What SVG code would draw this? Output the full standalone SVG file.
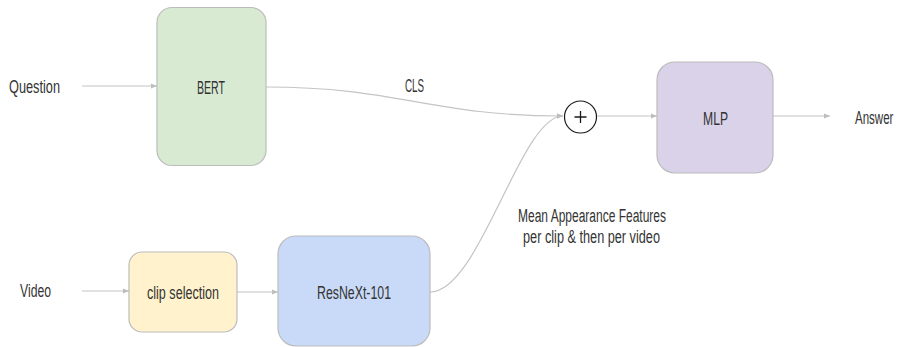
<svg xmlns="http://www.w3.org/2000/svg" width="897" height="347" viewBox="0 0 897 347">
<defs>
<marker id="arr" viewBox="0 0 10 10" refX="10" refY="5" markerWidth="6" markerHeight="6" markerUnits="userSpaceOnUse" orient="auto">
<path d="M0,1 L10,5 L0,9 Z" fill="#bdbdbd"/>
</marker>
<style>
.t{font-family:"Liberation Sans",Arial,sans-serif;font-size:18px;fill:#333333;}
.c{stroke:#c4c4c4;stroke-width:1.2;fill:none;}
.box{stroke:#bcbcbc;stroke-width:1.2;}
</style>
</defs>
<rect width="897" height="347" fill="#ffffff"/>
<g id="connectors">
<path class="c" d="M82,86 L157,86" marker-end="url(#arr)"/>
<path class="c" d="M266,87 C400,87 430,116 563,116" marker-end="url(#arr)"/>
<path class="c" d="M430,292 C480,292 520,116 563,116" marker-end="url(#arr)"/>
<path class="c" d="M597,116 L657,116" marker-end="url(#arr)"/>
<path class="c" d="M773,116 L830,116" marker-end="url(#arr)"/>
<path class="c" d="M82,291 L129,291" marker-end="url(#arr)"/>
<path class="c" d="M237,292 L278,292" marker-end="url(#arr)"/>
</g>
<g id="question"><text class="t" x="9" y="93" textLength="51" lengthAdjust="spacingAndGlyphs">Question</text></g>
<g id="bert">
<rect class="box" x="157" y="7.5" width="109" height="158" rx="15" fill="#d9ead3"/>
<text class="t" x="197" y="94" textLength="28" lengthAdjust="spacingAndGlyphs">BERT</text>
</g>
<g id="cls"><text class="t" x="405" y="92" textLength="19" lengthAdjust="spacingAndGlyphs">CLS</text></g>
<g id="plus">
<circle cx="580.5" cy="117" r="16" fill="#ffffff" stroke="#1a1a1a" stroke-width="1.2"/>
<path d="M574.5,117 H586.5 M580.5,111 V123" stroke="#1a1a1a" stroke-width="1.3"/>
</g>
<g id="mlp">
<rect class="box" x="657" y="62" width="116" height="111" rx="18" fill="#d9d2e9" stroke="#a4c2f4"/>
<text class="t" x="703" y="125" textLength="25" lengthAdjust="spacingAndGlyphs">MLP</text>
</g>
<g id="answer"><text class="t" transform="translate(855,124) scale(0.64,1)">Answer</text></g>
<g id="video"><text class="t" x="20" y="297" textLength="31" lengthAdjust="spacingAndGlyphs">Video</text></g>
<g id="clip">
<rect class="box" x="129" y="252" width="108" height="80" rx="13" fill="#fff2cc"/>
<text class="t" x="147" y="299" textLength="72" lengthAdjust="spacingAndGlyphs">clip selection</text>
</g>
<g id="resnext">
<rect class="box" x="278" y="236" width="152" height="110" rx="18" fill="#c9daf8"/>
<text class="t" x="317" y="299" textLength="74" lengthAdjust="spacingAndGlyphs">ResNeXt-101</text>
</g>
<g id="features">
<text class="t" x="518" y="222" textLength="148" lengthAdjust="spacingAndGlyphs">Mean Appearance Features</text>
<text class="t" x="523" y="243" textLength="137" lengthAdjust="spacingAndGlyphs">per clip &amp; then per video</text>
</g>
</svg>
